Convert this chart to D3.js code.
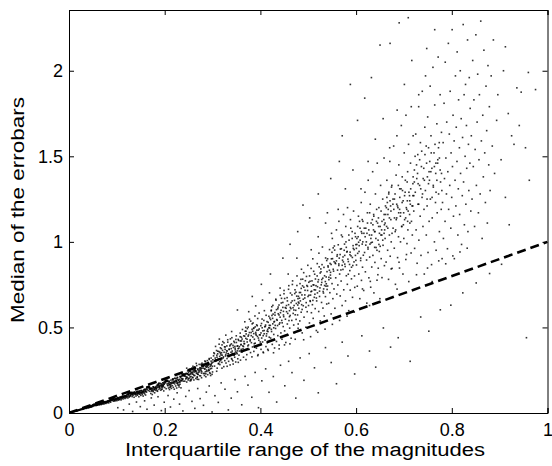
<!DOCTYPE html>
<html><head><meta charset="utf-8">
<script src="https://cdn.jsdelivr.net/npm/d3@7"></script>
<style>html,body{margin:0;padding:0;background:#fff;}svg{display:block;}</style>
</head><body>
<svg id="chart" width="552" height="466"></svg>
<script>
// Point data, flat [x, y, x, y, ...] (x: IQR of magnitudes, y: median of errorbars)
const s1 = [.004,.003,.007,.006,.009,.008,.012,.010,.014,.012,.016,.013,.018,.016,.019,.015,.021,.018,.023,.020,.024,.019,.026,.022,.027,.024,.029,.025,.030,.023,.031,.028,.033,.027,.034,.029,.035,.031,.036,.027,.038,.032,.039,.035,.040,.033,.041,.030,.042,.037,.043,.036,.044,.034,.045,.039,.046,.040,.047,.036,.048,.043,.049,.041,.050,.044,.051,.046,.052,.045,.053,.047,.054,.048,.055,.046,.056,.049,.057,.044,.058,.050,.059,.047,.060,.052,.011,.009,.015,.011,.017,.015,.020,.016,.022,.019,.025,.021,.028,.022,.032,.026,.034,.032,.037,.030,.039,.031,.041,.036,.044,.037,.046,.035,.047,.042,.049,.038,.050,.047,.051,.043,.052,.048,.053,.044,.054,.046,.055,.050,.056,.045,.057,.051,.058,.046,.059,.053,.060,.048,.013,.011,.018,.014,.024,.021,.029,.023,.033,.030,.036,.033,.040,.036,.043,.033,.045,.042,.048,.040,.050,.041,.052,.050,.054,.044,.056,.052,.058,.054,.059,.049,.044,.040,.049,.045,.051,.049,.053,.051,.055,.052,.057,.047,.047,.039,.042,.034,.038,.034,.031,.026,.027,.021,.021,.017,.016,.014];
const s2 = [.061,.050,.062,.054,.063,.047,.064,.056,.065,.051,.066,.058,.067,.049,.068,.055,.069,.060,.070,.053,.071,.057,.072,.062,.073,.052,.074,.061,.075,.058,.076,.066,.077,.056,.078,.063,.079,.068,.080,.060,.081,.071,.082,.065,.083,.059,.084,.072,.085,.067,.086,.075,.087,.063,.088,.078,.089,.073,.090,.080,.091,.077,.092,.082,.093,.069,.094,.079,.095,.074,.096,.070,.097,.083,.098,.076,.099,.085,.100,.072,.101,.080,.102,.088,.103,.075,.104,.086,.105,.081,.106,.078,.107,.091,.108,.084,.109,.077,.110,.093,.111,.087,.112,.097,.113,.082,.114,.095,.115,.090,.116,.100,.117,.085,.118,.096,.119,.089,.120,.103,.0615,.056,.0635,.052,.0655,.059,.0675,.054,.0695,.057,.0715,.061,.0735,.064,.0755,.062,.0775,.060,.0795,.065,.0815,.068,.0835,.070,.0855,.071,.0875,.076,.0895,.083,.0905,.085,.0915,.086,.0925,.084,.0935,.087,.0945,.081,.0965,.078,.0985,.081,.1005,.083,.1025,.084,.1045,.089,.1065,.093,.1085,.090,.1105,.088,.1125,.094,.1145,.091,.1165,.098,.1185,.101,.1195,.094,.064,.053,.091,.074,.077,.066,.109,.093,.069,.055,.098,.084,.083,.071,.114,.092,.072,.060,.104,.082,.087,.078,.066,.057,.095,.077,.080,.065,.117,.099,.075,.066,.101,.086,.085,.069,.111,.097,.093,.080];
const s3 = [.121,.097,.122,.106,.123,.088,.124,.110,.1245,.101,.125,.115,.126,.093,.127,.117,.128,.113,.129,.102,.130,.118,.131,.109,.132,.096,.133,.120,.134,.105,.135,.113,.136,.092,.137,.123,.138,.108,.139,.117,.140,.099,.141,.126,.142,.111,.143,.104,.144,.121,.145,.115,.146,.095,.147,.128,.148,.110,.149,.122,.150,.103,.151,.131,.152,.117,.153,.108,.154,.126,.155,.099,.156,.134,.157,.120,.158,.112,.159,.129,.160,.105,.161,.137,.162,.122,.163,.148,.164,.151,.165,.147,.166,.152,.167,.149,.168,.153,.169,.127,.170,.140,.171,.114,.172,.145,.173,.132,.174,.108,.175,.143,.176,.125,.177,.151,.178,.136,.179,.118,.180,.148,.1215,.110,.1235,.114,.1255,.117,.1265,.118,.1275,.115,.1285,.119,.1295,.116,.1305,.121,.1325,.112,.1345,.117,.1365,.121,.1385,.114,.1405,.119,.1425,.124,.1445,.112,.1465,.121,.1485,.130,.1505,.119,.1525,.127,.1545,.117,.1565,.125,.1585,.137,.1605,.128,.1625,.151,.1635,.153,.1645,.150,.1655,.154,.1665,.155,.1675,.151,.1695,.138,.1715,.143,.1735,.139,.1755,.131,.1775,.146,.1795,.140,.123,.096,.151,.118,.137,.112,.169,.140,.128,.101,.160,.124,.144,.128,.176,.152,.133,.106,.166,.131,.148,.113,.125,.109,.157,.137,.140,.109,.173,.128,.131,.114,.162,.142,.146,.122,.178,.138,.135,.119,.154,.121,.170,.145,.127,.098,.143,.115];
const s4 = [.181,.132,.182,.155,.183,.141,.184,.162,.185,.127,.186,.150,.187,.168,.188,.138,.189,.158,.190,.145,.191,.173,.192,.133,.193,.162,.194,.151,.195,.140,.196,.176,.197,.157,.198,.129,.199,.168,.200,.149,.201,.186,.202,.188,.203,.185,.204,.190,.205,.187,.206,.191,.207,.160,.208,.146,.209,.178,.210,.137,.211,.167,.212,.153,.213,.192,.214,.144,.215,.175,.216,.160,.217,.199,.218,.150,.219,.181,.220,.139,.221,.170,.222,.202,.223,.158,.224,.186,.225,.146,.226,.176,.227,.207,.228,.163,.229,.192,.230,.152,.231,.183,.232,.168,.233,.212,.234,.147,.235,.189,.236,.222,.237,.224,.238,.221,.239,.226,.240,.223,.241,.227,.1805,.150,.1825,.146,.1845,.152,.1865,.160,.1885,.154,.1905,.162,.1925,.156,.1945,.166,.1965,.163,.1985,.171,.2005,.177,.2015,.190,.2025,.183,.2035,.191,.2045,.186,.2055,.184,.2075,.171,.2095,.168,.2115,.177,.2135,.170,.2155,.181,.2175,.175,.2195,.186,.2215,.180,.2235,.191,.2255,.184,.2275,.195,.2295,.178,.2315,.197,.2335,.189,.2355,.201,.2375,.217,.2385,.225,.2395,.219,.2405,.228,.184,.131,.213,.158,.197,.176,.232,.181,.189,.149,.221,.203,.206,.161,.238,.199,.193,.139,.227,.170,.216,.196,.186,.168,.235,.214,.203,.142,.224,.188,.209,.185,.195,.158,.230,.162,.218,.176,.188,.171,.199,.182,.211,.150,.236,.190,.226,.208];
const s5 = [.242,.186,.243,.215,.244,.199,.245,.232,.246,.181,.247,.208,.248,.246,.249,.193,.250,.223,.251,.203,.252,.255,.253,.188,.254,.230,.255,.213,.256,.198,.257,.262,.258,.238,.259,.206,.260,.226,.261,.193,.262,.270,.263,.219,.264,.247,.265,.202,.266,.234,.267,.277,.268,.211,.269,.253,.270,.226,.271,.196,.272,.284,.273,.240,.274,.265,.275,.217,.276,.248,.277,.206,.278,.291,.279,.272,.280,.276,.281,.273,.282,.278,.283,.231,.284,.258,.285,.300,.286,.212,.287,.267,.288,.243,.289,.306,.290,.224,.291,.282,.292,.254,.293,.313,.294,.236,.295,.272,.296,.219,.297,.321,.298,.261,.299,.293,.300,.240,.2415,.221,.2435,.225,.2455,.211,.2475,.229,.2495,.236,.2515,.222,.2535,.242,.2555,.238,.2575,.227,.2595,.246,.2615,.239,.2635,.252,.2655,.245,.2675,.231,.2695,.258,.2715,.247,.2735,.262,.2755,.254,.2775,.242,.2795,.280,.2805,.284,.2815,.281,.2835,.257,.2855,.272,.2875,.251,.2895,.278,.2915,.266,.2935,.284,.2955,.258,.2975,.290,.2995,.273,.246,.262,.281,.231,.258,.209,.293,.318,.252,.244,.287,.276,.266,.290,.299,.226,.244,.229,.273,.218,.262,.253,.296,.281,.255,.190,.284,.304,.270,.238,.249,.201,.278,.262,.291,.247,.259,.273,.268,.197,.286,.229,.297,.303,.253,.226,.276,.285];
const bandExtra = [.021,.017,.034,.031,.046,.039,.058,.051,.067,.056,.073,.065,.081,.068,.088,.078,.094,.079,.102,.090,.108,.091,.113,.101,.119,.098,.124,.109,.129,.108,.134,.116,.138,.116,.142,.123,.147,.122,.151,.131,.155,.128,.159,.138,.164,.136,.168,.146,.172,.142,.176,.153,.181,.149,.185,.162,.189,.155,.193,.170,.197,.163,.201,.177,.205,.170,.209,.185,.213,.177,.217,.193,.221,.184,.225,.200,.229,.190,.233,.208,.237,.197,.241,.216,.245,.204,.249,.225,.253,.211,.257,.233,.261,.219,.265,.243,.269,.226,.273,.252,.277,.233,.281,.262,.285,.241,.289,.271,.293,.249,.297,.281,.182,.141,.196,.152,.211,.163,.226,.175,.239,.186,.254,.196,.268,.208,.283,.219,.295,.231,.188,.175,.203,.189,.218,.199,.232,.214,.247,.229,.262,.246,.276,.262,.291,.282];
const s6 = [.3012,.298,.3027,.352,.3041,.274,.3055,.321,.3063,.389,.3078,.305,.3089,.337,.3097,.262,.3109,.361,.3118,.315,.3126,.290,.3137,.402,.3149,.331,.3153,.283,.3166,.347,.3172,.309,.3184,.376,.3195,.296,.3203,.338,.3214,.417,.3222,.322,.3235,.271,.3241,.355,.3256,.306,.3263,.386,.3275,.340,.3281,.292,.3294,.364,.3302,.318,.3317,.428,.3325,.346,.3336,.302,.3348,.373,.3352,.331,.3367,.281,.3373,.398,.3385,.355,.3396,.318,.3404,.440,.3411,.362,.3423,.305,.3437,.383,.3442,.340,.3458,.412,.3463,.326,.3475,.369,.3484,.298,.3496,.451,.3505,.352,.3514,.391,.3527,.317,.3533,.376,.3546,.424,.3552,.338,.3561,.362,.3578,.467,.3584,.309,.3593,.398,.3021,.334,.3346,.371,.3188,.352,.3527,.392,.3069,.311,.3413,.349,.3251,.387,.3582,.421,.3107,.346,.3472,.378,.3149,.300,.3305,.362,.3561,.388,.3039,.347,.3228,.328,.3394,.404,.3518,.363,.3164,.381,.3286,.351,.3451,.337,.3577,.446,.3093,.326,.3361,.392,.3209,.366,.3498,.412,.3133,.359,.3427,.395,.3272,.333,.3549,.378,.3051,.302,.3318,.414,.3482,.357,.3177,.339,.3389,.376,.3239,.410,.3536,.430,.3083,.365,.3446,.419,.3123,.287,.3331,.347,.3596,.401,.3262,.372,.3407,.313,.3198,.398,.3467,.389,.3006,.311,.3373,.433,.3512,.346,.3155,.355,.3299,.392,.3086,.244,.3197,.262,.3305,.273,.3431,.286,.3538,.296,.3142,.432,.3277,.455,.3399,.476,.3487,.430,.3599,.372];
const s7 = [.3604,.421,.3618,.357,.3625,.488,.3633,.392,.3647,.326,.3652,.451,.3669,.405,.3674,.533,.3688,.367,.3695,.436,.3701,.478,.3716,.341,.3724,.415,.3738,.392,.3745,.502,.3753,.456,.3766,.372,.3772,.548,.3787,.428,.3794,.353,.3806,.470,.3812,.411,.3828,.521,.3835,.386,.3841,.444,.3857,.494,.3863,.360,.3874,.431,.3886,.567,.3891,.408,.3905,.462,.3917,.379,.3922,.515,.3938,.448,.3944,.335,.3956,.484,.3967,.425,.3973,.584,.3989,.397,.3996,.456,.4008,.510,.4013,.372,.4027,.438,.4035,.549,.4046,.415,.4052,.480,.4064,.352,.4079,.463,.4083,.598,.4097,.426,.4104,.506,.4116,.388,.4125,.450,.4138,.534,.4142,.411,.4159,.476,.4164,.366,.4177,.565,.4185,.443,.4193,.497,.3617,.432,.3903,.471,.3744,.449,.4108,.514,.3659,.405,.3982,.457,.3826,.489,.4163,.530,.3702,.462,.4037,.498,.3785,.421,.3934,.510,.4141,.479,.3636,.375,.3861,.464,.4072,.541,.3727,.493,.3958,.438,.4185,.512,.3672,.449,.3891,.503,.4012,.468,.3809,.452,.4119,.571,.3751,.398,.3926,.484,.4058,.452,.3683,.478,.3847,.526,.4152,.489,.3603,.443,.3975,.491,.3770,.470,.4091,.504,.3872,.405,.4197,.555,.3658,.418,.3943,.552,.3721,.431,.4023,.523,.3838,.478,.4130,.463,.3694,.500,.3997,.415,.3797,.537,.4079,.482,.3912,.455,.4176,.498,.3646,.388,.3863,.497,.3699,.312,.3823,.328,.3952,.341,.4058,.356,.4153,.372,.3756,.592,.3902,.626,.4044,.660,.4190,.702];
const s8 = [.4207,.512,.4214,.438,.4226,.597,.4233,.476,.4248,.401,.4255,.553,.4261,.629,.4279,.459,.4284,.532,.4296,.380,.4303,.587,.4317,.494,.4322,.665,.4336,.418,.4341,.546,.4358,.511,.4364,.452,.4371,.619,.4389,.573,.4392,.397,.4407,.527,.4415,.688,.4428,.468,.4433,.600,.4446,.541,.4451,.431,.4469,.646,.4477,.505,.4482,.573,.4494,.716,.4506,.480,.4519,.616,.4523,.548,.4531,.412,.4547,.592,.4558,.674,.4563,.520,.4575,.455,.4589,.633,.4594,.744,.4608,.563,.4612,.496,.4627,.701,.4638,.610,.4642,.437,.4656,.541,.4664,.655,.4673,.772,.4685,.582,.4696,.514,.4704,.628,.4717,.470,.4723,.720,.4738,.600,.4746,.547,.4759,.683,.4765,.801,.4777,.573,.4788,.495,.4793,.648,.4213,.546,.4537,.612,.4372,.580,.4712,.658,.4259,.521,.4608,.598,.4436,.643,.4781,.631,.4305,.572,.4659,.690,.4487,.563,.4228,.601,.4564,.655,.4394,.519,.4743,.706,.4336,.604,.4622,.570,.4469,.617,.4795,.682,.4279,.498,.4507,.669,.4682,.615,.4350,.542,.4588,.723,.4419,.586,.4727,.574,.4241,.570,.4545,.628,.4389,.631,.4763,.745,.4294,.535,.4641,.645,.4455,.527,.4700,.602,.4326,.659,.4571,.582,.4493,.697,.4229,.489,.4668,.751,.4412,.560,.4751,.640,.4364,.609,.4597,.540,.4481,.594,.4785,.668,.4266,.578,.4625,.617,.4441,.670,.4718,.698,.4309,.512,.4274,.352,.4392,.375,.4504,.398,.4617,.404,.4728,.431,.4790,.520,.4238,.621,.4412,.730,.4581,.812,.4762,.905];
const s9 = [.4803,.612,.4816,.704,.4824,.538,.4835,.655,.4847,.781,.4852,.589,.4868,.690,.4874,.468,.4881,.743,.4896,.627,.4905,.820,.4912,.560,.4928,.672,.4933,.717,.4949,.501,.4957,.645,.4963,.798,.4978,.592,.4984,.740,.4991,.863,.5006,.628,.5014,.688,.5025,.526,.5038,.770,.5043,.652,.5059,.845,.5066,.586,.5072,.712,.5087,.633,.5095,.901,.5103,.553,.5118,.748,.5126,.676,.5134,.811,.5145,.610,.5151,.719,.5169,.482,.5176,.655,.5188,.873,.5192,.702,.5204,.766,.5219,.593,.5223,.934,.5236,.681,.5245,.731,.5251,.538,.5267,.825,.5278,.646,.5282,.763,.5296,.970,.5307,.613,.5311,.710,.5328,.851,.5334,.567,.5342,.745,.5359,.680,.5363,.906,.5375,.795,.5386,.637,.5394,.722,.4817,.671,.5162,.744,.4986,.716,.5341,.802,.4862,.633,.5214,.779,.5048,.689,.5377,.755,.4908,.735,.5263,.842,.5097,.658,.4839,.704,.5186,.801,.5012,.764,.5322,.725,.4951,.618,.5139,.694,.5288,.867,.4884,.782,.5065,.741,.5236,.712,.5392,.826,.4928,.690,.5113,.828,.5357,.768,.4806,.642,.5170,.672,.5027,.801,.5271,.749,.4971,.745,.5125,.720,.5304,.788,.4896,.665,.5078,.772,.5249,.818,.4853,.728,.5194,.738,.5039,.656,.5386,.891,.4940,.773,.5150,.783,.5318,.701,.4872,.605,.5102,.749,.5229,.854,.4995,.681,.5371,.741,.4828,.756,.5057,.709,.5283,.780,.4858,.840,.5062,.954,.5208,1.03,.5362,1.11,.4904,.428,.5049,.446,.5198,.472,.5351,.490];
const s10 = [.5404,.742,.5413,.860,.5427,.641,.5431,.793,.5445,.955,.5452,.703,.5466,.822,.5478,.579,.5484,.901,.5497,.756,.5503,1.02,.5515,.668,.5522,.840,.5538,.725,.5546,.976,.5557,.612,.5563,.877,.5574,.790,.5589,1.07,.5596,.695,.5607,.925,.5618,.748,.5624,.560,.5639,.862,.5641,1.12,.5656,.812,.5668,.684,.5672,.958,.5687,.771,.5693,1.04,.5708,.628,.5716,.893,.5725,.839,.5737,1.16,.5742,.720,.5758,.987,.5763,.870,.5779,.655,.5784,1.09,.5796,.802,.5805,.941,.5817,.752,.5821,1.20,.5838,.885,.5846,.598,.5853,1.01,.5869,.832,.5877,.718,.5882,1.13,.5894,.918,.5903,.784,.5918,1.06,.5925,.676,.5931,.862,.5947,1.18,.5959,.955,.5966,.801,.5972,.734,.5988,1.03,.5995,.892,.5416,.853,.5762,.921,.5588,.889,.5941,.962,.5463,.806,.5814,.944,.5639,.871,.5977,1.05,.5507,.902,.5863,.868,.5692,.960,.5431,.779,.5788,1.00,.5612,.835,.5922,.909,.5552,.952,.5734,.883,.5889,1.08,.5478,.868,.5666,.926,.5837,.811,.5994,.984,.5529,.829,.5713,1.03,.5956,.883,.5405,.901,.5771,.856,.5627,.983,.5875,.940,.5571,.873,.5727,.912,.5904,.852,.5496,.939,.5683,.836,.5848,1.04,.5442,.834,.5795,.968,.5648,.905,.5986,.921,.5540,.884,.5751,.951,.5918,1.02,.5469,.788,.5602,.916,.5829,.899,.5937,.978,.5521,.965,.5709,.863,.5871,.925,.5456,.874,.5487,1.05,.5626,1.19,.5776,1.31,.5934,1.42,.5504,.518,.5655,.541,.5812,.566,.5961,.590];
const s11 = [.6008,.865,.6017,1.02,.6025,.741,.6033,.933,.6049,1.15,.6056,.812,.6064,.978,.6078,.668,.6083,1.08,.6095,.891,.6107,1.23,.6112,.775,.6128,.987,.6134,.852,.6142,1.12,.6159,.716,.6163,1.05,.6177,.938,.6185,1.29,.6194,.825,.6203,1.08,.6219,.894,.6224,.642,.6236,1.17,.6248,.968,.6253,1.36,.6267,.790,.6279,1.04,.6284,.911,.6296,1.22,.6305,.735,.6313,1.11,.6327,.853,.6338,.998,.6346,1.41,.6351,.921,.6367,1.16,.6372,.702,.6386,1.06,.6393,.880,.6404,1.28,.6418,.967,.6425,1.12,.6437,.776,.6442,1.46,.6459,1.01,.6463,.846,.6476,1.20,.6485,.944,.6497,.668,.6503,1.09,.6512,1.33,.6524,.902,.6538,1.04,.6541,.791,.6556,1.25,.6563,.980,.6579,1.13,.6584,1.49,.6592,.861,.6597,1.07,.6017,.985,.6364,1.07,.6189,1.03,.6541,1.12,.6062,.944,.6413,1.02,.6238,1.11,.6585,1.05,.6109,1.06,.6467,1.14,.6290,.987,.6033,1.09,.6388,.968,.6214,1.00,.6522,1.18,.6151,.922,.6339,1.13,.6488,1.05,.6084,1.01,.6265,1.07,.6436,.951,.6592,1.10,.6128,1.13,.6313,.995,.6557,1.01,.6006,.962,.6370,1.15,.6227,1.05,.6471,1.09,.6171,1.08,.6325,1.04,.6504,.974,.6096,.905,.6283,1.17,.6449,1.11,.6043,1.03,.6394,1.06,.6249,.958,.6586,1.16,.6140,1.00,.6351,1.10,.6518,1.04,.6072,1.12,.6202,.981,.6429,1.19,.6533,1.07,.6121,1.05,.6309,1.02,.6477,.985,.6053,.998,.6102,1.31,.6251,1.47,.6402,1.60,.6565,1.72,.6133,.725,.6297,.769,.6455,.808,.6281,.628];
const s12 = [.6606,1.02,.6614,1.21,.6627,.882,.6638,1.09,.6643,1.36,.6659,.951,.6664,1.16,.6678,.781,.6682,1.28,.6696,1.04,.6705,1.47,.6713,.916,.6726,1.13,.6734,1.00,.6747,1.33,.6752,.845,.6769,1.22,.6773,1.08,.6785,1.56,.6798,.963,.6801,1.25,.6817,1.06,.6822,.752,.6836,1.39,.6849,1.14,.6853,1.62,.6867,.908,.6874,1.20,.6886,1.03,.6893,1.45,.6907,.847,.6912,1.31,.6928,1.00,.6931,1.17,.6945,1.68,.6956,1.09,.6964,1.38,.6979,.812,.6983,1.24,.6997,1.02,.7006,1.52,.7014,1.13,.7025,1.29,.7039,.897,.7042,1.74,.7058,1.19,.7063,.990,.7077,1.41,.7082,1.07,.7096,1.57,.7101,.768,.7116,1.27,.7124,1.11,.7137,1.46,.7149,.935,.7153,1.79,.7168,1.21,.7175,1.04,.7187,1.34,.7192,1.62,.6617,1.16,.6962,1.23,.6788,1.19,.7141,1.31,.6663,1.08,.7013,1.27,.6839,1.13,.7185,1.21,.6709,1.24,.7067,1.35,.6890,1.17,.6633,1.20,.6988,1.10,.6814,1.28,.7122,1.24,.6751,1.05,.6939,1.31,.7088,1.18,.6684,1.29,.6865,1.21,.7036,1.14,.7192,1.38,.6728,1.18,.6913,1.26,.7157,1.12,.6606,1.11,.6970,1.30,.6827,1.07,.7071,1.24,.6771,1.25,.6925,1.15,.7104,1.29,.6696,1.14,.6883,1.33,.7049,1.20,.6643,1.26,.6994,1.17,.6849,1.22,.7186,1.27,.6740,1.32,.6951,1.09,.7118,1.16,.6672,1.19,.6802,1.14,.7029,1.36,.7133,1.22,.6721,1.21,.6909,1.19,.7077,1.12,.6653,1.23,.6702,1.55,.6858,1.77,.7009,1.92,.7164,2.06,.6733,.842,.6897,.881,.7053,.926,.6856,.724];
const s13 = [.7205,1.18,.7218,1.42,.7223,.962,.7237,1.29,.7246,1.63,.7254,1.07,.7268,1.37,.7275,.875,.7289,1.51,.7293,1.22,.7308,1.79,.7312,1.01,.7327,1.33,.7339,1.15,.7344,1.58,.7356,.921,.7365,1.44,.7378,1.26,.7383,1.88,.7397,1.09,.7402,1.37,.7419,1.19,.7425,.812,.7436,1.67,.7448,1.30,.7451,1.97,.7467,1.04,.7473,1.46,.7484,1.21,.7496,1.73,.7503,.938,.7514,1.55,.7526,1.12,.7533,1.36,.7548,1.91,.7552,1.25,.7565,1.62,.7577,.867,.7584,1.43,.7591,1.14,.7606,2.02,.7614,1.32,.7628,1.52,.7637,1.00,.7643,1.80,.7659,1.23,.7664,1.40,.7672,.951,.7688,1.69,.7695,1.17,.7707,1.48,.7715,2.08,.7724,1.28,.7738,1.58,.7741,1.06,.7756,1.86,.7765,1.35,.7779,1.19,.7784,1.64,.7797,.902,.7217,1.35,.7562,1.41,.7388,1.28,.7741,1.49,.7263,1.45,.7613,1.33,.7439,1.51,.7785,1.40,.7309,1.22,.7667,1.46,.7490,1.38,.7233,1.50,.7588,1.26,.7414,1.43,.7722,1.55,.7351,1.31,.7539,1.47,.7688,1.36,.7284,1.40,.7465,1.56,.7636,1.44,.7792,1.30,.7328,1.48,.7513,1.34,.7757,1.42,.7206,1.27,.7570,1.52,.7427,1.36,.7671,1.29,.7371,1.53,.7525,1.41,.7704,1.46,.7296,1.34,.7483,1.25,.7649,1.57,.7309,1.86,.7476,2.13,.7643,2.24,.7262,.808,.7493,.847,.7727,.889,.7589,.768];
const s14 = [.7806,1.23,.7819,1.58,.7825,1.02,.7838,1.81,.7847,1.37,.7859,1.12,.7863,2.05,.7876,1.49,.7888,1.28,.7894,1.70,.7909,.960,.7917,1.41,.7928,2.16,.7934,1.19,.7948,1.63,.7957,1.33,.7966,1.88,.7979,1.08,.7985,1.52,.7998,1.26,.8007,2.24,.8014,1.44,.8026,1.74,.8035,1.15,.8049,1.59,.8053,.902,.8068,1.36,.8076,1.97,.8085,1.21,.8093,1.67,.8108,1.47,.8112,2.11,.8127,1.04,.8136,1.31,.8142,1.83,.8159,1.55,.8164,1.16,.8177,2.00,.8183,1.40,.8196,1.72,.8204,.985,.8219,1.27,.8225,1.61,.8238,2.27,.8246,1.35,.8257,1.86,.8263,1.10,.8278,1.50,.8287,1.92,.8294,1.22,.8306,1.68,.8312,1.43,.8329,2.18,.8337,1.06,.8348,1.57,.8356,1.30,.8365,1.96,.8378,1.46,.8384,1.78,.8397,1.18,.7873,.872,.8022,.918,.8171,.941,.8322,.963];
const s15 = [.8408,1.62,.8423,1.25,.8437,2.06,.8449,1.44,.8462,1.83,.8476,1.09,.8488,1.54,.8503,2.21,.8514,1.33,.8529,1.70,.8541,1.98,.8556,1.17,.8568,1.48,.8577,1.86,.8593,1.28,.8605,2.29,.8618,1.59,.8634,1.02,.8647,1.74,.8659,1.38,.8671,2.12,.8688,1.52,.8702,1.23,.8715,1.91,.8729,1.65,.8743,1.11,.8756,2.03,.8772,1.45,.8785,1.79,.8801,1.30,.8823,1.97,.8846,1.56,.8869,2.18,.8894,1.40,.8937,1.71,.8962,1.86];
const s16 = [.903,1.48,.908,2.00,.912,1.26,.918,1.75,.925,1.62,.93,1.57,.936,1.90,.945,1.875,.954,1.55,.962,1.36,.975,1.89,.96,1.99,.956,.44,.92,1.1,.912,2.14,.941,1.68];
const lowOutliers = [.102,.031,.114,.018,.126,.052,.133,.009,.141,.064,.149,.037,.158,.071,.163,.022,.172,.088,.178,.046,.186,.095,.193,.014,.199,.063,.207,.102,.212,.035,.219,.081,.226,.118,.231,.052,.238,.012,.244,.097,.251,.131,.257,.068,.263,.027,.269,.143,.274,.084,.281,.045,.287,.122,.293,.158,.299,.006,.305,.101,.312,.062,.318,.176,.326,.139,.333,.018,.339,.087,.347,.195,.352,.124,.361,.048,.368,.214,.374,.163,.382,.092,.389,.237,.396,.031,.403,.188,.411,.258,.418,.121,.427,.213,.434,.064,.442,.279,.451,.159,.459,.302,.466,.236,.474,.087,.483,.322,.491,.191,.502,.347,.513,.264,.521,.118,.536,.382,.548,.295,.559,.171,.571,.414,.583,.333,.597,.228,.612,.451,.628,.362,.641,.268,.657,.497,.672,.385,.688,.440,.713,.302,.735,.561,.752,.478,.776,.603,.798,.630,.823,.702,.851,.760,.879,.815,.904,.869];
const highOutliers = [.352,.602,.383,.681,.402,.752,.421,.812,.447,.905,.462,.986,.478,1.06,.489,1.215,.503,1.14,.521,1.28,.547,1.37,.565,1.47,.54,1.17,.571,1.62,.588,1.92,.603,1.71,.618,1.84,.632,1.96,.65,2.15,.671,2.16,.69,2.28,.709,2.31];
const refLine = [[0,0],[1,1]];
const xTicks = [0,0.2,0.4,0.6,0.8,1];
const yTicks = [0,0.5,1,1.5,2];
const xLabel = "Interquartile range of the magnitudes";
const yLabel = "Median of the errobars";

const groups = [s1,s2,s3,s4,s5,bandExtra,s6,s7,s8,s9,s10,s11,s12,s13,s14,s15,s16,lowOutliers,highOutliers];
const pts = [];
groups.forEach(gr => { for (let i = 0; i + 1 < gr.length; i += 2) pts.push([gr[i], gr[i+1]]); });

const svg = d3.select("#chart");
const m = {left: 69, top: 10, right: 4.5, bottom: 53};
const W = 552 - m.left - m.right, H = 466 - m.top - m.bottom;
const x = d3.scaleLinear().domain([0,1]).range([0,W]);
const y = d3.scaleLinear().domain([0,2.355]).range([H,0]);
const g = svg.append("g").attr("transform",`translate(${m.left},${m.top})`);
const font = "'Liberation Sans', Arial, Helvetica, sans-serif";

g.append("defs").append("clipPath").attr("id","clip").append("rect").attr("width",W).attr("height",H);
const pg = g.append("g").attr("clip-path","url(#clip)");
pg.selectAll("rect.pt").data(pts).join("rect").attr("class","pt")
  .attr("x", d => x(d[0]) - 0.8).attr("y", d => y(d[1]) - 0.8)
  .attr("width",1.6).attr("height",1.6).attr("fill","#000").attr("fill-opacity",0.8);

pg.append("path").datum(refLine)
  .attr("d", d3.line().x(d => x(d[0])).y(d => y(d[1])))
  .attr("fill","none").attr("stroke","#000").attr("stroke-width",2.6).attr("stroke-dasharray","9,5");

const tl = 5;
const ax = [
  g.append("g").attr("transform",`translate(0,${H})`).call(d3.axisBottom(x).tickValues(xTicks).tickSize(-tl).tickPadding(10).tickFormat(d3.format("~g"))),
  g.append("g").call(d3.axisTop(x).tickValues(xTicks).tickSize(-tl).tickFormat("")),
  g.append("g").call(d3.axisLeft(y).tickValues(yTicks).tickSize(-tl).tickPadding(6).tickFormat(d3.format("~g"))),
  g.append("g").attr("transform",`translate(${W},0)`).call(d3.axisRight(y).tickValues(yTicks).tickSize(-tl).tickFormat(""))
];
ax.forEach(a => {
  a.selectAll(".domain").attr("stroke","#000").attr("stroke-width",1);
  a.selectAll(".tick line").attr("stroke","#000");
  a.selectAll("text").attr("font-family",font).attr("font-size",18).attr("fill","#000");
});

svg.append("text").attr("x", 305).attr("y", 456).attr("text-anchor","middle")
  .attr("font-family",font).attr("font-size",18)
  .attr("textLength",360).attr("lengthAdjust","spacingAndGlyphs").text(xLabel);
svg.append("text").attr("transform",`translate(24,210) rotate(-90)`).attr("text-anchor","middle")
  .attr("font-family",font).attr("font-size",18)
  .attr("textLength",226).attr("lengthAdjust","spacingAndGlyphs").text(yLabel);
</script>
</body></html>
